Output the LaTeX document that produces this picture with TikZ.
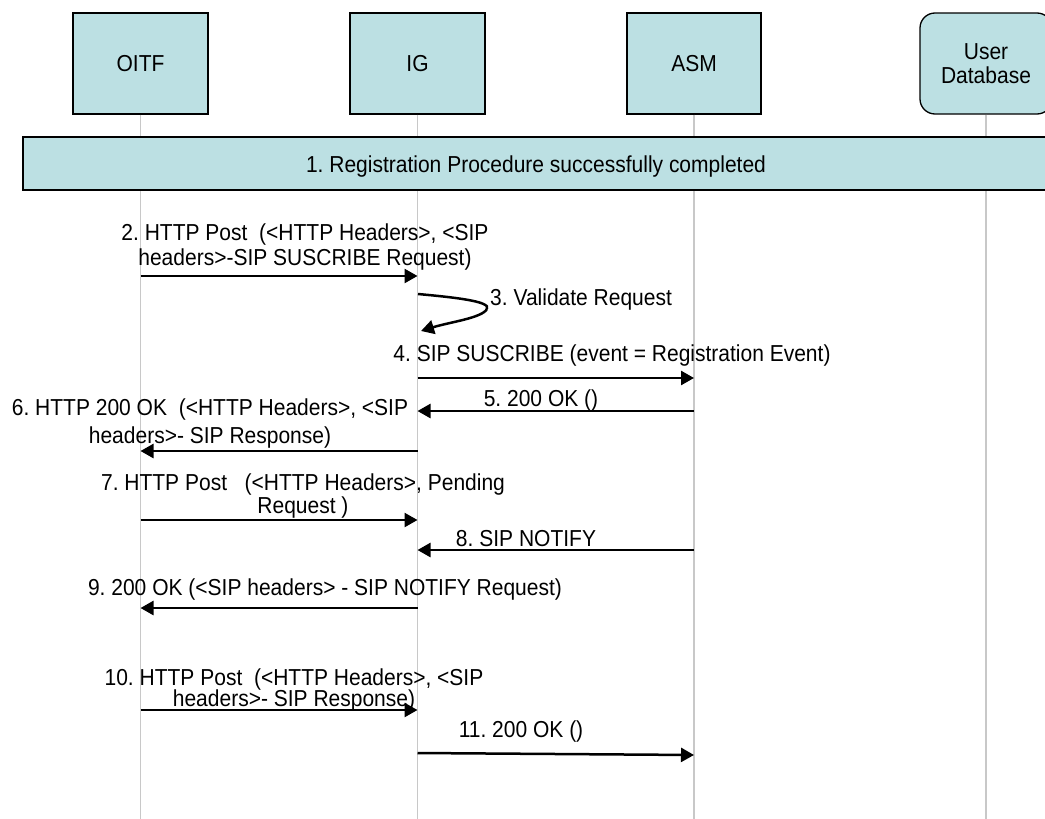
\documentclass[tikz,border=0pt]{standalone}
\usepackage{fontspec}
\setmainfont{Liberation Sans}
\usepackage{graphicx}
\usetikzlibrary{arrows.meta}
\definecolor{boxfill}{RGB}{188,224,227}
\definecolor{lifegray}{RGB}{200,200,200}
\newcommand{\vstr}[1]{\scalebox{1}[1.1]{#1}}
\frenchspacing
\begin{document}
\begin{tikzpicture}[x=1pt,y=-1pt,
  actor/.style={draw=black, line width=1.3pt, fill=boxfill, minimum height=101pt,
    inner sep=0pt, font=\fontsize{21}{24}\selectfont, align=center},
  life/.style={draw=lifegray, line width=1.2pt},
  msg/.style={line width=2.5pt, -{Triangle[length=13pt,width=14pt]}},
  lbl/.style={font=\fontsize{21}{25}\selectfont, align=center, inner sep=0pt}]
\useasboundingbox (0,0) rectangle (1045,819);
\clip (0,0) rectangle (1045,819);

% actors
\node[actor, minimum width=135pt] (oitf) at (140.5,63.5) {\vstr{OITF}};
\node[actor, minimum width=135pt] (ig) at (417.5,63.5) {\vstr{IG}};
\node[actor, minimum width=134pt] (asm) at (694,63.5) {\vstr{ASM}};
\node[actor, minimum width=132pt, rounded corners=15pt] (udb) at (986,63.5) {\vstr{User}\\\vstr{Database}};

% lifeline ends
\coordinate (oitfend) at (oitf.south |- 0,819);
\coordinate (igend) at (ig.south |- 0,819);
\coordinate (asmend) at (asm.south |- 0,819);
\coordinate (udbend) at (udb.south |- 0,819);
\draw[life] (oitf.south) -- (oitfend);
\draw[life] (ig.south) -- (igend);
\draw[life] (asm.south) -- (asmend);
\draw[life] (udb.south) -- (udbend);

% banner
\node[draw=black, line width=1.3pt, fill=boxfill, minimum width=1040pt, minimum height=53pt,
  inner sep=0pt] (banner) at (543,163.5) {};
\node[lbl] (bannertxt) at (536,167) {\vstr{1. Registration Procedure successfully completed}};

% 2
\node[lbl] (l2) at (305,247) {\vstr{2. HTTP Post\ \ (<HTTP Headers>, <SIP}\\\vstr{headers>-SIP SUSCRIBE Request)}};
\draw[msg] (oitf |- 0,276) -- (ig |- 0,276);

% 3 self loop
\coordinate (s3a) at (418,294);
\coordinate (s3b) at (487,309);
\coordinate (s3c) at (421,331);
\draw[line width=2.5pt] (s3a) .. controls (450,297) and (492,301) .. (s3b);
\draw[msg] (s3b) .. controls (482,318) and (450,322) .. (s3c);
\node[lbl, anchor=west] (l3) at (490,300) {\vstr{3. Validate Request}};

% 4
\node[lbl] (l4) at (612,356) {\vstr{4. SIP SUSCRIBE (event = Registration Event)}};
\draw[msg] (ig |- 0,378) -- (asm |- 0,378);

% 5
\node[lbl] (l5) at (541,401) {\vstr{5. 200 OK ()}};
\draw[msg] (asm |- 0,411) -- (ig |- 0,411);

% 6
\node[lbl] (l6) at (210,424) {\vstr{6. HTTP 200 OK\ \ (<HTTP Headers>, <SIP}\\[3pt]\vstr{headers>- SIP Response)}};
\draw[msg] (ig |- 0,451) -- (oitf |- 0,451);

% 7
\node[lbl] (l7) at (303,496) {\vstr{7. HTTP Post\ \ \ (<HTTP Headers>, Pending}\\[-2pt]\vstr{Request )}};
\draw[msg] (oitf |- 0,520) -- (ig |- 0,520);

% 8
\node[lbl] (l8) at (526,539) {\vstr{8. SIP NOTIFY}};
\draw[msg] (asm |- 0,550) -- (ig |- 0,550);

% 9
\node[lbl] (l9) at (325,590) {\vstr{9. 200 OK (<SIP headers> - SIP NOTIFY Request)}};
\draw[msg] (ig |- 0,608) -- (oitf |- 0,608);

% 10
\node[lbl] (l10) at (294,690) {\vstr{10. HTTP Post\ \ (<HTTP Headers>, <SIP}\\[-4pt]\vstr{headers>- SIP Response)}};
\draw[msg] (oitf |- 0,710) -- (ig |- 0,710);

% 11
\node[lbl] (l11) at (521,732) {\vstr{11. 200 OK ()}};
\coordinate (a11s) at (ig |- 0,753);
\coordinate (a11e) at (asm |- 0,755);
\draw[msg] (a11s) -- (a11e);
\end{tikzpicture}
\end{document}
